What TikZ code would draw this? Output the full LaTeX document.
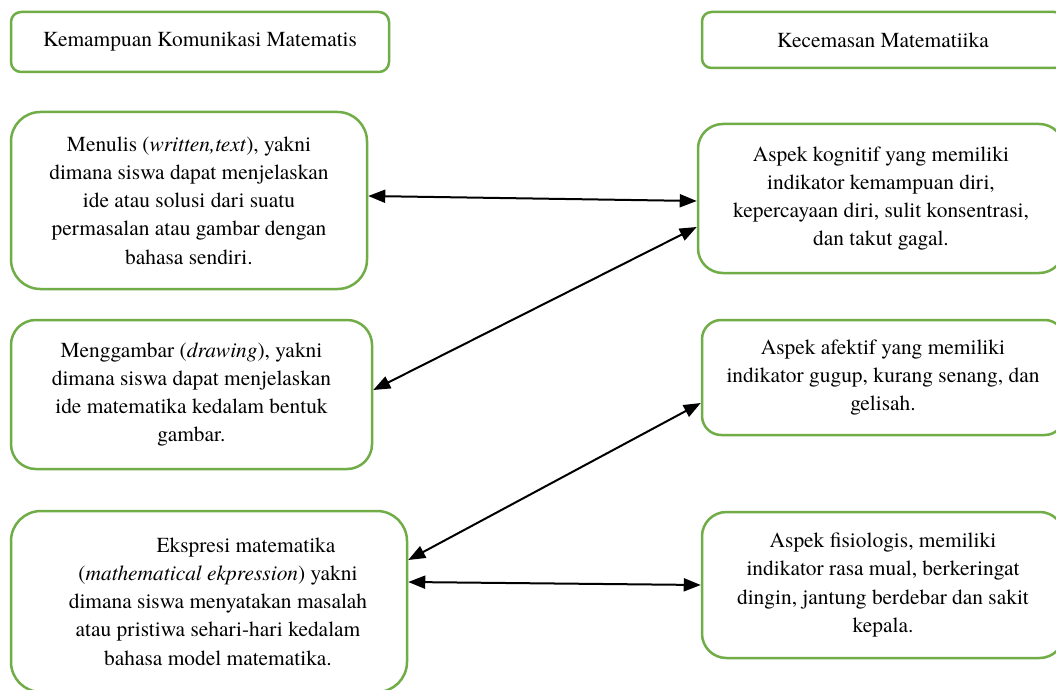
\documentclass[tikz,border=0pt]{standalone}
\usepackage{fontspec}
\setmainfont{texgyretermes}[Extension=.otf, UprightFont=*-regular, ItalicFont=*-italic, BoldFont=*-bold, BoldItalicFont=*-bolditalic]
\usetikzlibrary{arrows.meta}
\definecolor{boxgreen}{HTML}{70AD47}
\tikzset{
  box/.style={draw=boxgreen, line width=1.25pt, rectangle, align=center, inner sep=0pt,
    font=\rmfamily\fontsize{10.7}{14.15}\selectfont},
  arr/.style={line width=1pt, {Triangle[length=8.5pt,width=6.5pt]}-{Triangle[length=8.5pt,width=6.5pt]}}
}
\begin{document}
\begin{tikzpicture}[x=0.5pt,y=-0.5pt]
\clip (0,0) rectangle (1056,690);
\fill[white] (0,0) rectangle (1056,690);
\node[box, rounded corners=5pt, minimum width=189pt, minimum height=30pt] (tl) at (200,42) {Kemampuan Komunikasi Matematis};
\node[box, rounded corners=4.7pt, minimum width=181pt, minimum height=28pt] (tr) at (883,40) {Kecemasan Matematiika};
\node[box, rounded corners=14.7pt, minimum width=178pt, minimum height=88.5pt] (menulis) at (189,200.5)
  {Menulis (\textit{written,text}), yakni\\ dimana siswa dapat menjelaskan\\ ide atau solusi dari suatu\\ permasalan atau gambar dengan\\ bahasa sendiri.};
\node[box, rounded corners=12.4pt, minimum width=183pt, minimum height=74.5pt] (kognitif) at (881,198.5)
  {Aspek kognitif yang memiliki\\ indikator kemampuan diri,\\ kepercayaan diri, sulit konsentrasi,\\ dan takut gagal.};
\node[box, rounded corners=12.4pt, minimum width=180.5pt, minimum height=74.5pt] (menggambar) at (191.5,394.5)
  {Menggambar (\textit{drawing}), yakni\\ dimana siswa dapat menjelaskan\\ ide matematika kedalam bentuk\\ gambar.};
\node[box, rounded corners=15pt, minimum width=198pt, minimum height=90.5pt] (ekspresi) at (209,601.5)
  {\hspace*{37pt}Ekspresi matematika\\ \hspace*{9pt}(\textit{mathematical ekpression}) yakni\\ \hspace*{9pt}dimana siswa menyatakan masalah\\ \hspace*{9pt}atau pristiwa sehari-hari kedalam\\ \hspace*{9pt}bahasa model matematika.};
\node[box, rounded corners=9.6pt, minimum width=181pt, minimum height=57.5pt] (afektif) at (883,377.5)
  {Aspek afektif yang memiliki\\ indikator gugup, kurang senang, dan\\ gelisah.};
\node[box, rounded corners=12.2pt, minimum width=181pt, minimum height=73pt] (fisiologis) at (883,585)
  {Aspek fisiologis, memiliki\\ indikator rasa mual, berkeringat\\ dingin, jantung berdebar dan sakit\\ kepala.};
\draw[arr] ([yshift=2.25pt]menulis.east) -- ([yshift=-1.25pt]kognitif.west);
\draw[arr] ([yshift=2.25pt]menggambar.east) -- ([yshift=-14.25pt]kognitif.west);
\draw[arr] ([yshift=20.75pt]ekspresi.east) -- ([yshift=-12.75pt]afektif.west);
\draw[arr] ([yshift=9.75pt]ekspresi.east) -- (fisiologis.west);
\end{tikzpicture}
\end{document}
